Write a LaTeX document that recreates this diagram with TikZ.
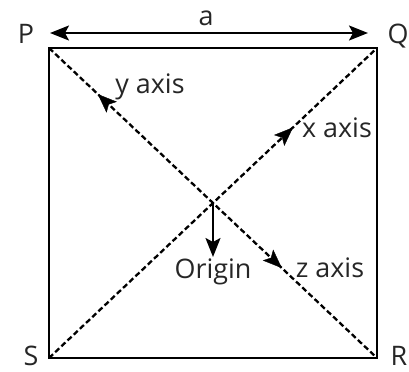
\documentclass[tikz,border=0pt]{standalone}
\usepackage{fontspec}
\setmainfont{Open Sans}
\usetikzlibrary{
    arrows.meta,         % For arrow tips
    decorations.markings,% For arrows along the diagonals
    positioning          % For the Origin label
}

\begin{document}
\begin{tikzpicture}[
    x=1bp, y=-1bp,
    >={Stealth[length=19bp, width=15bp, inset=4bp]}, % default arrow tip
    side/.style={line width=2.8bp},                  % square edges
    diag/.style={line width=2.3bp, dash pattern=on 5.5bp off 3bp},
    lbl/.style={font=\fontsize{27}{32}\selectfont, text=black!85, inner sep=1bp},
    dimarrow/.style={<->, line width=2.2bp},
    twoarrows/.style 2 args={
        decoration={markings,
            mark=at position #1 with {\arrowreversed{>}},
            mark=at position #2 with {\arrow{>}}},
        postaction={decorate}
    },
    axisarrow/.style={
        decoration={markings, mark=at position #1 with {\arrow{>}}},
        postaction={decorate}
    }]

    \useasboundingbox (0,0) rectangle (409,372);

    % Corners of the square
    \coordinate (P) at (49,48);
    \coordinate (Q) at (377,48);
    \coordinate (R) at (377,358);
    \coordinate (S) at (49,358);
    \coordinate (orig) at (213,203);

    % Corner labels
    \node[lbl, anchor=base] (lblP) at (26,43) {P};
    \node[lbl, anchor=base] (lblQ) at (398,43) {Q};
    \node[lbl, anchor=base] (lblS) at (31,365) {S};
    \node[lbl, anchor=base] (lblR) at (399,365) {R};

    % Side length a
    \coordinate (aL) at (50,33);
    \coordinate (aR) at (368,33);
    \draw[dimarrow] (aL) -- (aR);
    \node[lbl, anchor=base] (lbla) at (206,25) {a};

    % Square
    \draw[side] (P) -- (Q) -- (R) -- (S) -- cycle;

    % Diagonals with the axes
    \draw[diag] (P) -- (R);
    \path[twoarrows={0.149}{0.71}] (P) -- (R);
    \draw[diag] (S) -- (Q);
    \path[axisarrow=0.744] (S) -- (Q);

    % Axis labels
    \node[lbl, anchor=base] (ylbl) at (150,93) {y axis};
    \node[lbl, anchor=base] (xlbl) at (337,137) {x axis};
    \node[lbl, anchor=base] (zlbl) at (330,277) {z axis};

    % Origin
    \node[lbl, below=54bp of orig, inner sep=2bp] (origin) {Origin};
    \draw[->, line width=2.2bp] (orig) -- (origin.north);

\end{tikzpicture}
\end{document}
